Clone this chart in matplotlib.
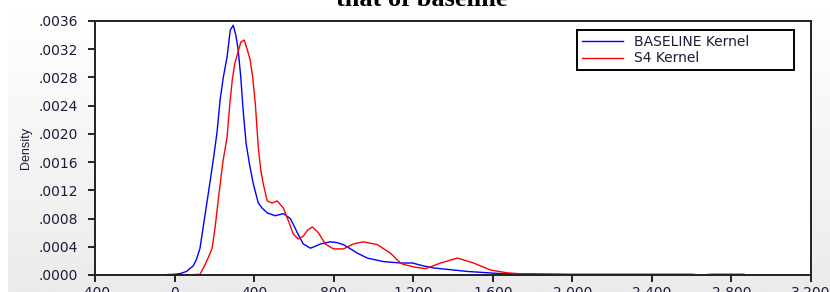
"""Kernel density of BASELINE vs S4 (EViews-style chart)."""

import matplotlib

matplotlib.use("Agg")
import matplotlib.pyplot as plt
import numpy as np
from matplotlib.ticker import FuncFormatter, MultipleLocator

# values
BASE_X = [-90, 0, 28, 60, 94, 110, 128, 145, 164, 180, 194, 213, 229, 245, 264, 280, 295,
          308, 320, 333, 345, 360, 378, 396, 421, 440, 466, 506, 547, 582, 600, 617, 647,
          683, 710, 733, 783, 815, 849, 885, 919, 969, 1050, 1136, 1196, 1250, 1302, 1473,
          1639, 2000, 2400, 2600, 2650, 2700, 2863]
BASE_Y = [0.0, 0.00001, 0.00002, 0.00005, 0.00013, 0.00022, 0.00038, 0.0007, 0.00105,
          0.00135, 0.00162, 0.00201, 0.00248, 0.0028, 0.00309, 0.00347, 0.00354, 0.0034,
          0.00319, 0.0028, 0.00233, 0.00186, 0.00155, 0.00129, 0.00102, 0.00095, 0.00088,
          0.00084, 0.00087, 0.00080, 0.0007, 0.00060, 0.00044, 0.00038, 0.00041, 0.00044,
          0.00047, 0.00046, 0.00043, 0.00037, 0.00031, 0.00024, 0.00019, 0.00017, 0.00017,
          0.00013, 0.00010, 0.00005, 0.00002, 0.00001, 0.00001, 0.00001, 0.0, 0.00001,
          0.00001]
S4_X = [-40, 60, 128, 154, 170, 189, 205, 219, 232, 244, 264, 277, 290, 303, 315, 333, 350,
        365, 380, 393, 406, 421, 433, 446, 466, 491, 516, 547, 572, 597, 622, 647, 670, 693,
        723, 758, 798, 849, 899, 949, 1020, 1085, 1136, 1151, 1210, 1262, 1337, 1422, 1503,
        1589, 1674, 1775]
S4_Y = [0.0, 0.0, 0.00001, 0.00015, 0.00025, 0.00038, 0.0007, 0.00105, 0.00135, 0.00162,
        0.00195, 0.0024, 0.00276, 0.003, 0.00312, 0.0033, 0.00333, 0.0032, 0.00305, 0.0028,
        0.00243, 0.00181, 0.0015, 0.00129, 0.00105, 0.00102, 0.00105, 0.00095, 0.00077,
        0.00058, 0.00051, 0.00055, 0.00064, 0.00068, 0.00060, 0.00044, 0.00037, 0.00037,
        0.00044, 0.00047, 0.00043, 0.00031, 0.00017, 0.00015, 0.00011, 0.00009, 0.00017,
        0.00024, 0.00017, 0.00007, 0.00003, 0.00001]
LABELS = ["BASELINE Kernel", "S4 Kernel"]
TEXT = "#1c1c3a"

fig = plt.figure(figsize=(8.3, 2.92), dpi=100)

# soft white-to-grey backdrop like the exported EViews frame
bg = fig.add_axes([8 / 830, 0, 1 - 8 / 830, 1], zorder=-5)
bg.imshow(np.linspace(1.0, 0.92, 100).reshape(-1, 1), aspect="auto", cmap="gray",
          vmin=0, vmax=1, extent=(0, 1, 0, 1))
bg.set_axis_off()

ax = fig.add_axes([95 / 830, 1 - 275 / 292, (811 - 95) / 830, (275 - 21) / 292])
ax.plot(BASE_X, BASE_Y, color="#0000ff", linewidth=1.0, label=LABELS[0])
ax.plot(S4_X, S4_Y, color="#ff0000", linewidth=1.0, label=LABELS[1])

ax.set_xlim(-400, 3200)
ax.set_ylim(0, 0.0036)
ax.xaxis.set_major_locator(MultipleLocator(400))
ax.yaxis.set_major_locator(MultipleLocator(0.0004))
ax.xaxis.set_major_formatter(FuncFormatter(lambda v, _: f"{v:,.0f}"))
ax.yaxis.set_major_formatter(FuncFormatter(lambda v, _: f"{v:.4f}".lstrip("0")))
ax.tick_params(direction="out", length=5, width=1.2, pad=3, labelsize=10, labelcolor=TEXT)
ax.tick_params(axis="y", pad=7)
for side in ax.spines.values():
    side.set_linewidth(1.4)
    side.set_color("#222222")
ax.set_ylabel("Density", fontsize=9, family="Liberation Sans", color=TEXT, labelpad=5)

ax.legend(loc="upper left", bbox_to_anchor=(0.663, 0.99, 0.323, 0.0), mode="expand",
          fancybox=False, framealpha=1, edgecolor="black", fontsize=10, handlelength=3.0,
          handletextpad=0.75, borderpad=0.35, labelspacing=0.15, labelcolor=TEXT
          ).get_frame().set_linewidth(1.4)

fig.text(0.508, 1 - 6 / 292, "that of baseline", ha="center", va="baseline",
         fontsize=19, fontweight="bold", family="Liberation Serif")

fig.savefig("out.png", dpi=100)
